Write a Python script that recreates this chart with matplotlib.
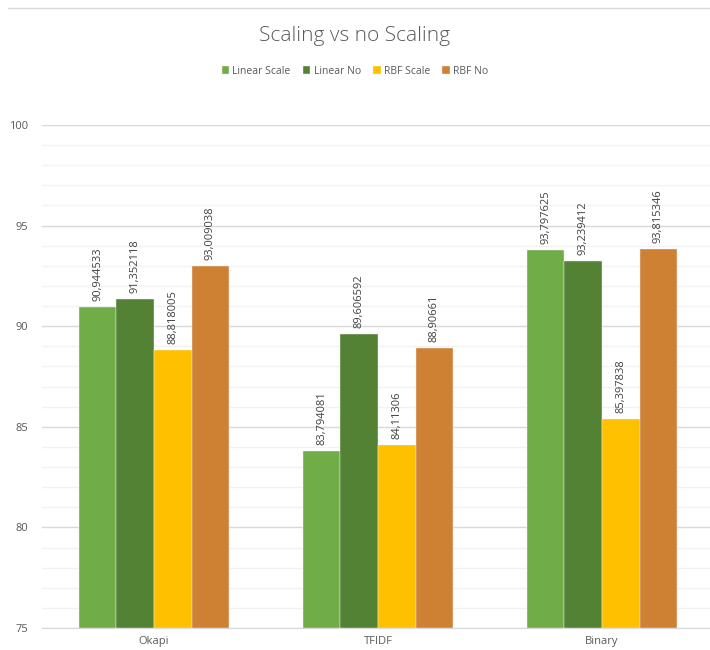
import matplotlib
matplotlib.use("Agg")
import matplotlib.pyplot as plt
import numpy as np
from matplotlib.ticker import MultipleLocator

categories = ["Okapi", "TFIDF", "Binary"]
series = ["Linear Scale", "Linear No", "RBF Scale", "RBF No"]
linear_scale = [90.944533, 83.794081, 93.797625]
linear_no = [91.352118, 89.606592, 93.239412]
rbf_scale = [88.818005, 84.11306, 85.397838]
rbf_no = [93.009038, 88.90661, 93.815346]
colors = ["#70AD47", "#548235", "#FFC000", "#CE8133"]

plt.rcParams['font.family'] = ['Open Sans', 'DejaVu Sans']

fig = plt.figure(figsize=(7.1, 6.5), dpi=100)
ax = fig.add_axes([42/710, 1-628/650, 672/710, 503/650])

x = np.arange(len(categories))
w = 0.168
data = [linear_scale, linear_no, rbf_scale, rbf_no]
for i, (name, vals) in enumerate(zip(series, data)):
    pos = x + (i - 1.5) * w
    ax.bar(pos, [v - 75 for v in vals], w, bottom=75, color=colors[i],
           edgecolor="#f4f4f4", linewidth=0.3, label=name, zorder=3)
    for p, v in zip(pos, vals):
        ax.text(p, v + 0.3, str(v).replace('.', ','), rotation=90,
                ha="center", va="bottom", fontsize=8, color="#404040")

ax.set_xlim(-0.5, 2.5)
ax.set_ylim(75, 100)
ax.yaxis.set_major_locator(MultipleLocator(5))
ax.yaxis.set_minor_locator(MultipleLocator(1))
ax.grid(axis="y", which="major", color="#d9d9d9", linewidth=1, zorder=0)
ax.grid(axis="y", which="minor", color="#f2f2f2", linewidth=1, zorder=0)
ax.set_xticks(x)
ax.set_xticklabels(categories)
ax.tick_params(axis="both", which="both", length=0, labelsize=8, colors="#595959")
ax.tick_params(axis="x", pad=6)
ax.tick_params(axis="y", pad=10)
for s in ["left", "right", "top"]:
    ax.spines[s].set_visible(False)
ax.spines["bottom"].set_color("#d9d9d9")
ax.set_axisbelow(True)

fig.text(0.5, 1-36/650, "Scaling vs no Scaling", ha="center", va="center",
         fontsize=15, color="#595959", fontweight="light")
fig.legend(loc="center", bbox_to_anchor=(0.5, 1-71/650), ncol=4, frameon=False,
           fontsize=7.5, handlelength=0.7, handleheight=0.7, columnspacing=1.2,
           handletextpad=0.3, labelcolor="#595959")
fig.add_artist(plt.Line2D([8/710, 1], [1-8/650, 1-8/650], color="#d9d9d9", linewidth=1))

fig.savefig("out.png", dpi=100)
